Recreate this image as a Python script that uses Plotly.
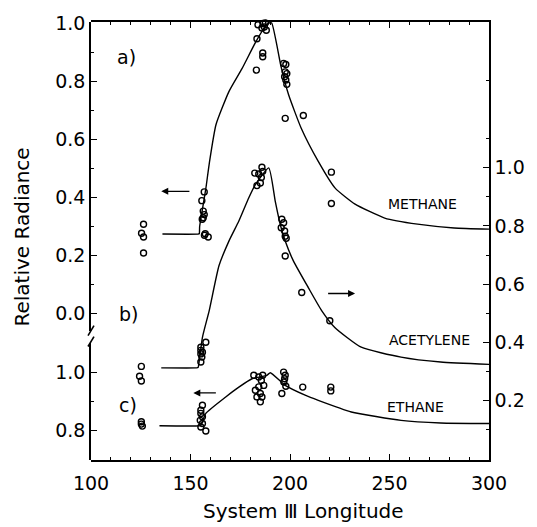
import plotly.graph_objects as go

# ---------------- data ----------------
methane_curve_lon = [135.9, 153.8, 154.4, 154.6, 156.0, 157.7, 159.5, 162.8, 169.3, 175.8, 182.8, 187.8, 189.5,
                     190.8, 195.5, 199.3, 205.7, 214.2, 222.7, 232.7, 247.6, 264.1, 282.5, 300]
methane_curve_val = [0.274, 0.274, 0.275, 0.30, 0.36, 0.43, 0.52, 0.65, 0.764, 0.842, 0.935, 0.99, 1.0,
                     1.0, 0.85, 0.753, 0.637, 0.524, 0.432, 0.377, 0.329, 0.308, 0.295, 0.291]
methane_pt_lon = [126.4, 125.4, 126.4, 126.4,
                  156.9, 155.7, 156.4, 156.9, 156.4, 155.9, 157.4, 158.9, 157.0,
                  183.9, 186.4, 187.6, 187.1, 185.9, 188.1, 183.4, 186.3, 186.3, 183.1,
                  196.8, 197.9, 197.6, 198.4, 197.3, 197.9, 198.4,
                  197.6, 206.7, 220.8, 220.8]
methane_pt_val = [0.308, 0.277, 0.264, 0.209,
                  0.419, 0.389, 0.353, 0.341, 0.330, 0.325, 0.275, 0.264, 0.270,
                  0.994, 0.998, 1.0, 0.986, 0.983, 0.975, 0.946, 0.897, 0.884, 0.838,
                  0.861, 0.857, 0.832, 0.826, 0.815, 0.804, 0.789,
                  0.672, 0.682, 0.487, 0.379]

acetylene_curve_lon = [135.3, 153.0, 153.8, 154.4, 156.0, 159.4, 164.3, 169.3, 174.3, 179.3, 182.6, 189.3,
                       192.6, 195.1, 197.6, 201.7, 209.2, 215.9, 222.5, 235.8, 255.8, 275.7, 300]
acetylene_curve_val = [0.312, 0.312, 0.313, 0.337, 0.417, 0.509, 0.663, 0.748, 0.817, 0.897, 0.942, 1.0,
                       0.885, 0.805, 0.748, 0.680, 0.588, 0.509, 0.451, 0.383, 0.349, 0.332, 0.324]
acetylene_pt_lon = [125.3, 124.4, 125.3,
                    157.7, 155.2, 155.2, 156.0, 155.2, 155.7, 155.2,
                    182.3, 184.3, 185.9, 186.3, 185.6, 185.1, 183.4,
                    195.9, 196.8, 195.6, 197.3, 197.6, 198.1,
                    197.6, 205.9, 220.0]
acetylene_pt_val = [0.317, 0.283, 0.267,
                    0.40, 0.383, 0.372, 0.366, 0.360, 0.349, 0.332,
                    0.982, 0.979, 1.002, 0.988, 0.967, 0.948, 0.939,
                    0.823, 0.811, 0.794, 0.783, 0.765, 0.758,
                    0.697, 0.571, 0.474]

ethane_curve_lon = [134.4, 154.4, 155.2, 157.7, 167.7, 174.3, 180.9, 188.4, 190.1, 197.6, 207.6, 214.2,
                    230.8, 255.8, 275.7, 300]
ethane_curve_val = [0.815, 0.815, 0.817, 0.858, 0.915, 0.949, 0.978, 0.990, 0.999, 0.955, 0.921, 0.903,
                    0.863, 0.834, 0.825, 0.823]
ethane_pt_lon = [125.3, 125.3, 125.8,
                 156.0, 155.2, 155.2, 156.0, 154.9, 156.0, 155.2, 157.7,
                 181.8, 184.3, 186.3, 185.6, 186.8, 184.3, 182.6, 185.1, 183.4, 185.9, 185.1,
                 196.8, 197.6, 197.3, 196.9, 197.9, 195.9,
                 206.4, 220.5, 220.5]
ethane_pt_val = [0.829, 0.821, 0.814,
                 0.886, 0.869, 0.858, 0.846, 0.834, 0.823, 0.811, 0.797,
                 0.990, 0.984, 0.990, 0.972, 0.955, 0.950, 0.938, 0.927, 0.915, 0.915, 0.898,
                 1.001, 0.990, 0.978, 0.967, 0.952, 0.927,
                 0.949, 0.949, 0.936]

x_ticks = [100, 150, 200, 250, 300]
left_upper_ticks = [0.0, 0.2, 0.4, 0.6, 0.8, 1.0]
left_lower_ticks = [0.8, 1.0]
right_ticks = [0.2, 0.4, 0.6, 0.8, 1.0]

# ---------------- figure ----------------
FONT = "DejaVu Sans"
W, H = 537, 527
L, R, T, B = 91, 45, 20, 67
PW, PH = W - L - R, H - T - B

def py(px):  # screen pixel y -> paper
    return (H - B - px) / PH

def pxx(px):  # screen pixel x -> paper
    return (px - L) / PW

fig = go.Figure()
line_style = dict(color="black", width=1.4, shape="spline", smoothing=0.5)
marker_style = dict(symbol="circle-open", size=6, color="black", line=dict(width=1.4, color="black"))

fig.add_trace(go.Scatter(x=methane_curve_lon, y=methane_curve_val, mode="lines", line=line_style,
                         xaxis="x", yaxis="y", showlegend=False, cliponaxis=False))
fig.add_trace(go.Scatter(x=methane_pt_lon, y=methane_pt_val, mode="markers", marker=marker_style,
                         xaxis="x", yaxis="y", showlegend=False, cliponaxis=False))
fig.add_trace(go.Scatter(x=ethane_curve_lon, y=ethane_curve_val, mode="lines", line=line_style,
                         xaxis="x", yaxis="y2", showlegend=False))
fig.add_trace(go.Scatter(x=ethane_pt_lon, y=ethane_pt_val, mode="markers", marker=marker_style,
                         xaxis="x", yaxis="y2", showlegend=False, cliponaxis=False))
fig.add_trace(go.Scatter(x=acetylene_curve_lon, y=acetylene_curve_val, mode="lines", line=line_style,
                         xaxis="x", yaxis="y3", showlegend=False))
fig.add_trace(go.Scatter(x=acetylene_pt_lon, y=acetylene_pt_val, mode="markers", marker=marker_style,
                         xaxis="x", yaxis="y3", showlegend=False))

tickfont = dict(family=FONT, size=19, color="black")
common = dict(showline=True, linecolor="black", linewidth=1.6, ticks="inside", tickcolor="black",
              tickwidth=1.4, showgrid=False, zeroline=False, tickfont=tickfont)

fig.update_layout(
    width=W, height=H,
    margin=dict(l=L, r=R, t=T, b=B),
    paper_bgcolor="white", plot_bgcolor="rgba(0,0,0,0)",
    xaxis=dict(range=[100, 300], anchor="y3", tickmode="array", tickvals=x_ticks,
               ticktext=[str(v) for v in x_ticks], ticklen=6, mirror="ticks", ticklabelstandoff=5,
               minor=dict(tickmode="linear", tick0=100, dtick=10, ticks="inside", ticklen=3,
                          tickcolor="black", tickwidth=1.2),
               **common),
    yaxis=dict(domain=[py(330), 1], range=[-0.058, 1.0034], anchor="x", side="left",
               tickmode="array", tickvals=left_upper_ticks,
               ticktext=[f"{v:.1f}" for v in left_upper_ticks], ticklen=6,
               minor=dict(tickmode="array", tickvals=[0.1, 0.3, 0.5, 0.7, 0.9], ticks="inside",
                          ticklen=3, tickcolor="black", tickwidth=1.2),
               **common),
    yaxis2=dict(domain=[0, py(342)], range=[0.6966, 1.1034], anchor="x", side="left",
                tickmode="array", tickvals=left_lower_ticks,
                ticktext=[f"{v:.1f}" for v in left_lower_ticks], ticklen=6,
                minor=dict(tickmode="array", tickvals=[0.9], ticks="inside",
                           ticklen=3, tickcolor="black", tickwidth=1.2),
                **common),
    yaxis3=dict(domain=[0, 1], range=[-0.005, 1.5017], anchor="x", side="right",
                tickmode="array", tickvals=right_ticks,
                ticktext=[f"{v:.1f}" for v in right_ticks], ticklen=6,
                minor=dict(tickmode="array", tickvals=[0.1, 0.3, 0.5, 0.7, 0.9, 1.1, 1.3],
                           ticks="inside", ticklen=3, tickcolor="black", tickwidth=1.2),
                **common),
)

# axis break marks
for (x0, y0, x1, y1) in [(88, 335, 94, 325), (88, 346, 94, 336)]:
    fig.add_shape(type="line", xref="paper", yref="paper",
                  x0=pxx(x0), y0=py(y0), x1=pxx(x1), y1=py(y1),
                  line=dict(color="black", width=1.6))

ctr = dict(xanchor="center", yanchor="middle", showarrow=False)

# panel labels
for txt, lon, ypx in [("a)", 117.8, 55), ("b)", 118.6, 313), ("c)", 118.6, 405)]:
    fig.add_annotation(x=lon, xref="x", y=py(ypx), yref="paper", text=txt,
                       font=dict(family=FONT, size=19, color="black"), **ctr)

# species labels
for txt, lon, ypx in [("METHANE", 266.6, 203), ("ACETYLENE", 269.9, 339), ("ETHANE", 263.2, 407)]:
    fig.add_annotation(x=lon, xref="x", y=py(ypx), yref="paper", text=txt,
                       font=dict(family=FONT, size=14, color="black"), **ctr)

# arrows pointing to the relevant axis
arrow_common = dict(text="", showarrow=True, arrowhead=2, arrowsize=1, arrowwidth=1.4,
                    arrowcolor="black", axref="x")
fig.add_annotation(x=135.3, y=0.421, xref="x", yref="y", ax=150.2, ay=0.421, ayref="y", **arrow_common)
fig.add_annotation(x=232.7, y=0.568, xref="x", yref="y3", ax=218.4, ay=0.568, ayref="y3", **arrow_common)
fig.add_annotation(x=151.4, y=0.929, xref="x", yref="y2", ax=163.5, ay=0.929, ayref="y2", **arrow_common)

# axis titles
fig.add_annotation(x=pxx(22), y=py(236), xref="paper", yref="paper", text="Relative Radiance",
                   textangle=-90, font=dict(family=FONT, size=20, color="black"), **ctr)
fig.add_annotation(x=pxx(305), y=py(511), xref="paper", yref="paper", text="System Ⅲ Longitude",
                   font=dict(family=FONT, size=20, color="black"), **ctr)

fig.write_html("out.html", config={"displayModeBar": False},
               post_script="document.body.style.margin='0';document.body.style.overflow='hidden';")
